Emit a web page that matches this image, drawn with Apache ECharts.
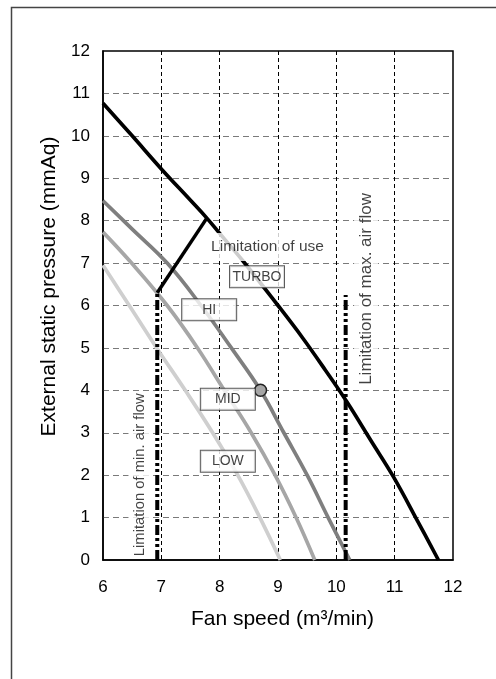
<!DOCTYPE html>
<html>
<head>
<meta charset="utf-8">
<script src="https://cdn.jsdelivr.net/npm/echarts@6/dist/echarts.min.js"></script>
<style>
  html, body { margin: 0; padding: 0; background: #fff; }
  #ebox { width: 496px; height: 679px; }
</style>
</head>
<body>
<div id="ebox"></div>
<script>
// fan curves (x = m3/min, y = mmAq)
const turboX = [6.0, 6.5, 7.0, 7.5, 7.78, 8.0, 8.4, 9.0, 9.42, 9.81, 10.18, 10.6, 10.98, 11.4, 11.75];
const turboY = [10.77, 10.0, 9.22, 8.48, 8.06, 7.7, 7.05, 6.0, 5.24, 4.48, 3.73, 2.8, 1.96, 0.9, 0];
const hiX = [6.0, 6.5, 7.1, 7.68, 8.2, 8.7, 9.1, 9.5, 9.86, 10.23];
const hiY = [8.47, 7.8, 7.0, 6.0, 5.0, 4.0, 3.0, 2.0, 1.0, 0];
const midX = [6.0, 6.49, 7.1, 7.62, 8.08, 8.54, 8.95, 9.31, 9.63];
const midY = [7.73, 7.0, 6.0, 5.0, 4.0, 3.0, 2.0, 1.0, 0];
const lowX = [6.0, 6.45, 6.92, 7.41, 7.88, 8.31, 8.69, 9.04];
const lowY = [6.95, 6.0, 5.0, 4.0, 3.0, 2.0, 1.0, 0];

// limitation lines
const useLimitX = [6.93, 7.78];
const useLimitY = [6.3, 8.06];
const minFlowX = 6.93;
const minFlowTop = 6.3;
const maxFlowX = 10.16;
const maxFlowTop = 6.25;

// rated point on the HI curve
const ratedPoint = [8.7, 4.0];

// axes
const xTicks = [6, 7, 8, 9, 10, 11, 12];
const yTicks = [0, 1, 2, 3, 4, 5, 6, 7, 8, 9, 10, 11, 12];

const curveLabels = ['TURBO', 'HI', 'MID', 'LOW'];

let zip = function (xs, ys) {
    return xs.map((x, i) => [x, ys[i]]);
};

let chart = echarts.init(document.getElementById('ebox'), null, { renderer: 'canvas' });

let fontMain = 'Liberation Sans, Arial, sans-serif';

let curve = function (name, xs, ys, color) {
    return {
        name: name,
        type: 'line',
        data: zip(xs, ys),
        smooth: 0.4,
        showSymbol: false,
        symbol: 'none',
        lineStyle: { color: color, width: 3.7 },
        z: 3,
        silent: true
    };
};

let boxLabel = {
    show: true,
    position: 'inside',
    formatter: '{b}',
    fontFamily: fontMain,
    fontSize: 14,
    color: '#111',
    backgroundColor: '#fff',
    borderColor: '#333',
    borderWidth: 1,
    width: 52,
    height: 19,
    lineHeight: 19,
    align: 'center',
    verticalAlign: 'middle',
    padding: [1, 1]
};

chart.setOption({
    animation: false,
    backgroundColor: '#fff',
    graphic: [{
        type: 'rect',
        left: 9,
        top: 5,
        shape: { width: 560, height: 720 },
        style: { fill: 'none', stroke: '#444', lineWidth: 1.5 },
        silent: true,
        z: -10
    }],
    grid: {
        left: 103,
        top: 51,
        right: 43,
        bottom: 119,
        show: true,
        borderColor: '#000',
        borderWidth: 1.5,
        backgroundColor: 'transparent',
        outerBoundsMode: 'none'
    },
    xAxis: {
        type: 'value',
        min: xTicks[0],
        max: xTicks[xTicks.length - 1],
        interval: 1,
        name: 'Fan speed (m³/min)',
        nameLocation: 'middle',
        nameGap: 49,
        nameTextStyle: { fontFamily: fontMain, fontSize: 21, color: '#000', padding: [0, 0, 0, 9] },
        axisLine: { show: true, lineStyle: { color: '#000', width: 1.5 } },
        axisTick: { show: false },
        axisLabel: { fontFamily: fontMain, fontSize: 17, color: '#000', margin: 19 },
        splitLine: {
            show: true,
            showMinLine: false,
            showMaxLine: false,
            lineStyle: { color: '#000', width: 1, type: [4, 3] }
        }
    },
    yAxis: {
        type: 'value',
        min: yTicks[0],
        max: yTicks[yTicks.length - 1],
        interval: 1,
        name: 'External static pressure (mmAq)',
        nameLocation: 'middle',
        nameRotate: 90,
        nameGap: 41,
        nameTextStyle: { fontFamily: fontMain, fontSize: 21, color: '#000', padding: [0, 0, 0, 38] },
        axisLine: { show: true, lineStyle: { color: '#000', width: 1.5 } },
        axisTick: { show: false },
        axisLabel: { fontFamily: fontMain, fontSize: 17, color: '#000', margin: 13 },
        splitLine: {
            show: true,
            showMinLine: false,
            showMaxLine: false,
            lineStyle: { color: '#7a7a7a', width: 1.2, type: [6, 4] }
        }
    },
    series: [
        curve('LOW', lowX, lowY, '#cfcfcf'),
        curve('MID', midX, midY, '#a6a6a6'),
        curve('HI', hiX, hiY, '#7f7f7f'),
        curve('TURBO', turboX, turboY, '#000'),
        {
            name: 'Limitation of use',
            type: 'line',
            data: zip(useLimitX, useLimitY),
            showSymbol: false,
            symbol: 'none',
            lineStyle: { color: '#000', width: 3.5 },
            z: 4
        },
        {
            name: 'Limitation of min. air flow',
            type: 'line',
            data: [[minFlowX, 0], [minFlowX, minFlowTop]],
            showSymbol: false,
            symbol: 'none',
            lineStyle: { color: '#000', width: 4, type: [10, 3, 3, 3, 3, 3] },
            z: 4
        },
        {
            name: 'Limitation of max. air flow',
            type: 'line',
            data: [[maxFlowX, 0], [maxFlowX, maxFlowTop]],
            showSymbol: false,
            symbol: 'none',
            lineStyle: { color: '#000', width: 4, type: [10, 3, 3, 3, 3, 3] },
            z: 4
        },
        {
            name: 'rated',
            type: 'scatter',
            data: [ratedPoint],
            symbol: 'circle',
            symbolSize: 12,
            itemStyle: { color: '#a6a6a6', borderColor: '#222', borderWidth: 1.5, opacity: 1 },
            z: 6
        },
        {
            // text annotations
            name: 'notes',
            type: 'scatter',
            symbolSize: 0,
            silent: true,
            z: 8,
            data: [
                { name: curveLabels[0], value: [8.64, 6.68], label: boxLabel },
                { name: curveLabels[1], value: [7.82, 5.90], label: boxLabel },
                { name: curveLabels[2], value: [8.14, 3.79], label: boxLabel },
                { name: curveLabels[3], value: [8.14, 2.33], label: boxLabel },
                {
                    name: 'Limitation of use', value: [8.82, 7.38],
                    label: {
                        show: true, position: 'inside', formatter: '{b}',
                        fontFamily: fontMain, fontSize: 15.5, color: '#111',
                        backgroundColor: '#fff', padding: [5, 3, 5, 3], lineHeight: 18
                    }
                },
                {
                    name: 'Limitation of min. air flow', value: [6.64, 2.01],
                    label: {
                        show: true, position: 'inside', formatter: '{b}', rotate: 90,
                        fontFamily: fontMain, fontSize: 14.8, color: '#111',
                        backgroundColor: '#fff', padding: [3, 2, 3, 2], lineHeight: 18
                    }
                },
                {
                    name: 'Limitation of max. air flow', value: [10.51, 6.39],
                    label: {
                        show: true, position: 'inside', formatter: '{b}', rotate: 90,
                        fontFamily: fontMain, fontSize: 17, color: '#111',
                        backgroundColor: '#fff', padding: [2, 2, 2, 2], lineHeight: 20
                    }
                }
            ]
        }
    ]
});
</script>
</body>
</html>
